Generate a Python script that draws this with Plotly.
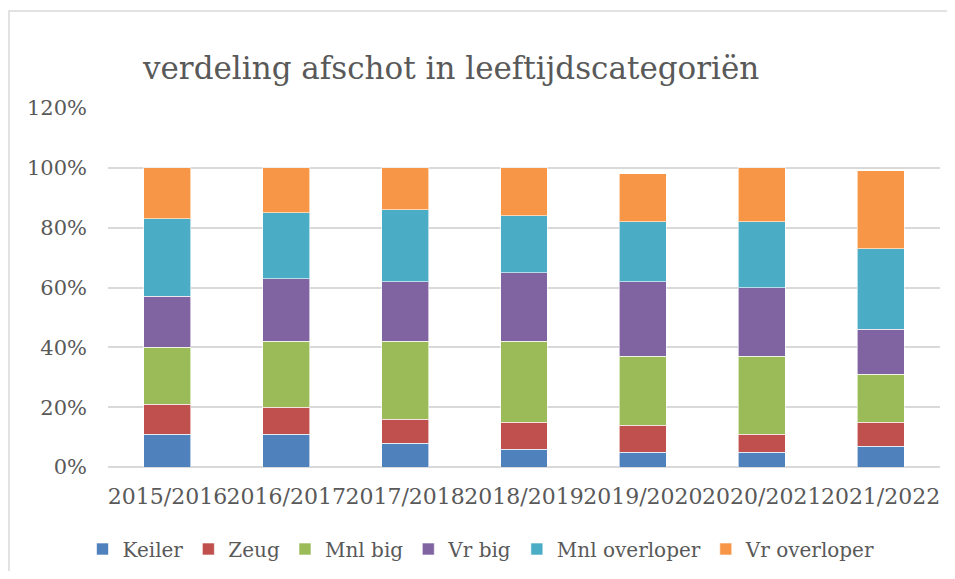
import plotly.graph_objects as go

categories = ["2015/2016", "2016/2017", "2017/2018", "2018/2019", "2019/2020", "2020/2021", "2021/2022"]
keiler = [0.11, 0.11, 0.08, 0.06, 0.05, 0.05, 0.07]
zeug = [0.10, 0.09, 0.08, 0.09, 0.09, 0.06, 0.08]
mnl_big = [0.19, 0.22, 0.26, 0.27, 0.23, 0.26, 0.16]
vr_big = [0.17, 0.21, 0.20, 0.23, 0.25, 0.23, 0.15]
mnl_overloper = [0.26, 0.22, 0.24, 0.19, 0.20, 0.22, 0.27]
vr_overloper = [0.17, 0.15, 0.14, 0.16, 0.16, 0.18, 0.26]
tick_vals = [0, 0.2, 0.4, 0.6, 0.8, 1.0, 1.2]
tick_text = ["0%", "20%", "40%", "60%", "80%", "100%", "120%"]

series = [
    ("Keiler", keiler, "#4f81bd"),
    ("Zeug", zeug, "#c0504d"),
    ("Mnl big", mnl_big, "#9bbb59"),
    ("Vr big", vr_big, "#8064a2"),
    ("Mnl overloper", mnl_overloper, "#4bacc6"),
    ("Vr overloper", vr_overloper, "#f79646"),
]

FONT = "DejaVu Serif"
GRAY = "#595959"

W, H = 947, 563
L, T = 100, 100
PW, PH = 832, 359

fig = go.Figure()
for name, vals, col in series:
    fig.add_trace(go.Bar(
        name=name, x=categories, y=vals,
        marker=dict(color=col, line=dict(color="rgba(255,255,255,0.6)", width=1)),
    ))

fig.update_layout(
    barmode="stack",
    bargap=0.605,
    width=W, height=H,
    margin=dict(l=L, r=W - L - PW, t=T, b=H - T - PH, autoexpand=False),
    paper_bgcolor="white", plot_bgcolor="white",
    font=dict(family=FONT, color=GRAY, size=20),
    title=dict(
        text="verdeling afschot in leeftijdscategoriën",
        x=135 / W, xanchor="left", xref="container",
        y=1 - 60 / H, yanchor="middle", yref="container",
        font=dict(family=FONT, size=31, color=GRAY),
    ),
    showlegend=True,
    legend=dict(
        orientation="h", x=0.5, xanchor="center", xref="container",
        y=1 - 541 / H, yanchor="middle", yref="container",
        font=dict(family=FONT, size=20, color=GRAY),
        traceorder="normal", itemwidth=30,
    ),
    xaxis=dict(
        showgrid=False, zeroline=False, showline=False,
        tickfont=dict(family=FONT, size=22, color=GRAY),
        ticks="", ticklabelstandoff=14, tickangle=0, automargin=False,
    ),
    yaxis=dict(
        range=[0, 1.2], tickvals=tick_vals, ticktext=tick_text,
        showgrid=True, gridcolor="#d9d9d9", gridwidth=1.5,
        zeroline=True, zerolinecolor="#d9d9d9", zerolinewidth=1.5,
        showline=False, ticks="", automargin=False,
        tickfont=dict(family=FONT, size=21, color=GRAY),
        ticklabelstandoff=20,
    ),
    shapes=[dict(
        type="rect", xref="paper", yref="paper",
        x0=(1 - L) / PW, x1=(W + 20 - L) / PW,
        y0=(T + PH - H - 20) / PH, y1=(T + PH - 3) / PH,
        line=dict(color="#d9d9d9", width=1.5), fillcolor="rgba(0,0,0,0)",
        layer="below",
    )],
)

fig.write_html("out.html")
